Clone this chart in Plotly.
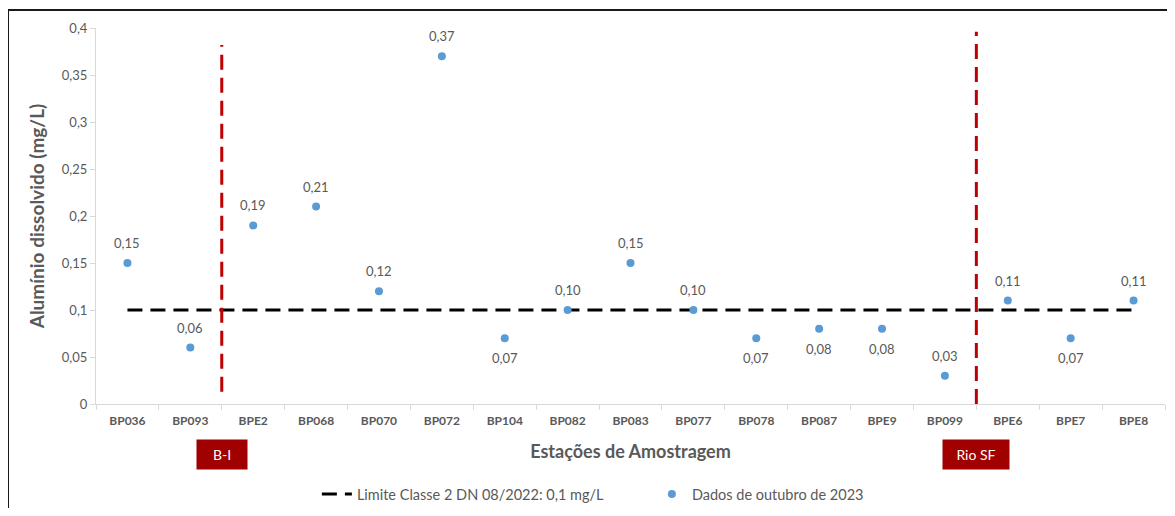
import plotly.graph_objects as go

# Dados
stations = ["BP036", "BP093", "BPE2", "BP068", "BP070", "BP072", "BP104", "BP082", "BP083",
            "BP077", "BP078", "BP087", "BPE9", "BP099", "BPE6", "BPE7", "BPE8"]
aluminio = [0.15, 0.06, 0.19, 0.21, 0.12, 0.37, 0.07, 0.10, 0.15,
            0.10, 0.07, 0.08, 0.08, 0.03, 0.11, 0.07, 0.11]
# rotulo acima (1) ou abaixo (-1) do ponto
label_side = [1, 1, 1, 1, 1, 1, -1, 1, 1, 1, -1, -1, -1, 1, 1, -1, 1]
limite = [0.1] * len(stations)
y_ticks = [0, 0.05, 0.1, 0.15, 0.2, 0.25, 0.3, 0.35, 0.4]

gray = "#595959"
font_family = "Lato, 'Open Sans', sans-serif"

fig = go.Figure()

fig.add_trace(go.Scatter(
    x=stations, y=limite, mode="lines",
    name="Limite Classe 2 DN 08/2022: 0,1 mg/L",
    line=dict(color="black", width=3, dash="15px,8px"),
    hoverinfo="skip",
))

fig.add_trace(go.Scatter(
    x=stations, y=aluminio, mode="markers",
    name="Dados de outubro de 2023",
    marker=dict(color="#5B9BD5", size=8),
))

# rotulos de dados
for st, val, side in zip(stations, aluminio, label_side):
    fig.add_annotation(x=st, y=val, text=f"{val:.2f}".replace(".", ","),
                       showarrow=False, yshift=20 * side,
                       font=dict(size=13, color=gray, family=font_family))

# linhas verticais de divisao (B-I e Rio SF)
for xpos, y0, y1 in [(1.5, 0.013, 0.382), (13.5, 0.0, 0.396)]:
    fig.add_shape(type="line", xref="x", yref="y", x0=xpos, x1=xpos, y0=y0, y1=y1,
                  line=dict(color="#C00000", width=3, dash="15px,8px"))

# moldura (lados direito e inferior ficam fora da imagem)
fig.add_shape(type="rect", xref="paper", yref="paper",
              x0=-0.0823, x1=1.02, y0=-0.35, y1=1.048,
              line=dict(color="#1a1a1a", width=2))

for xpos, txt, w in [(1.5, "B-I", 48), (13.5, "Rio SF", 64)]:
    fig.add_annotation(x=xpos, xref="x", y=-0.133, yref="paper", text=txt,
                       xanchor="center", yanchor="middle",
                       showarrow=False, bgcolor="#A00000", width=w, height=27,
                       font=dict(color="white", size=14, family=font_family))

# o body da pagina tem margem de 8px, por isso a figura e menor que a janela
fig.update_layout(
    width=1159, height=500,
    margin=dict(l=88, r=2, t=20, b=104),
    paper_bgcolor="white", plot_bgcolor="white",
    separators=",.",
    font=dict(family=font_family, color=gray),
    showlegend=True,
    legend=dict(orientation="h", x=0.52, xanchor="center",
                yref="container", y=0.028, yanchor="middle",
                font=dict(size=14.5, color=gray), entrywidth=290),
)

fig.update_xaxes(
    type="category", range=[-0.5, 16.5], automargin=False,
    showline=True, linecolor="#D9D9D9", linewidth=1,
    ticks="outside", tickson="boundaries", ticklen=5, tickcolor="#D9D9D9",
    tickfont=dict(size=12, color=gray), ticklabelstandoff=6,
    tickprefix="<b>", ticksuffix="</b>",
    showgrid=False, zeroline=False,
    title=dict(text="<b>Estações de Amostragem</b>", font=dict(size=18, color=gray), standoff=17),
)

fig.update_yaxes(
    range=[0, 0.4], tickvals=y_ticks, automargin=False,
    showline=True, linecolor="#D9D9D9", linewidth=1,
    ticks="outside", ticklen=5, tickcolor="#D9D9D9",
    tickfont=dict(size=13, color=gray),
    tickprefix="<b>", ticksuffix="</b>",
    showgrid=False, zeroline=False,
    title=dict(text="<b>Alumínio dissolvido (mg/L)</b>", font=dict(size=19, color=gray), standoff=12),
)

fig.write_html("out.html")
